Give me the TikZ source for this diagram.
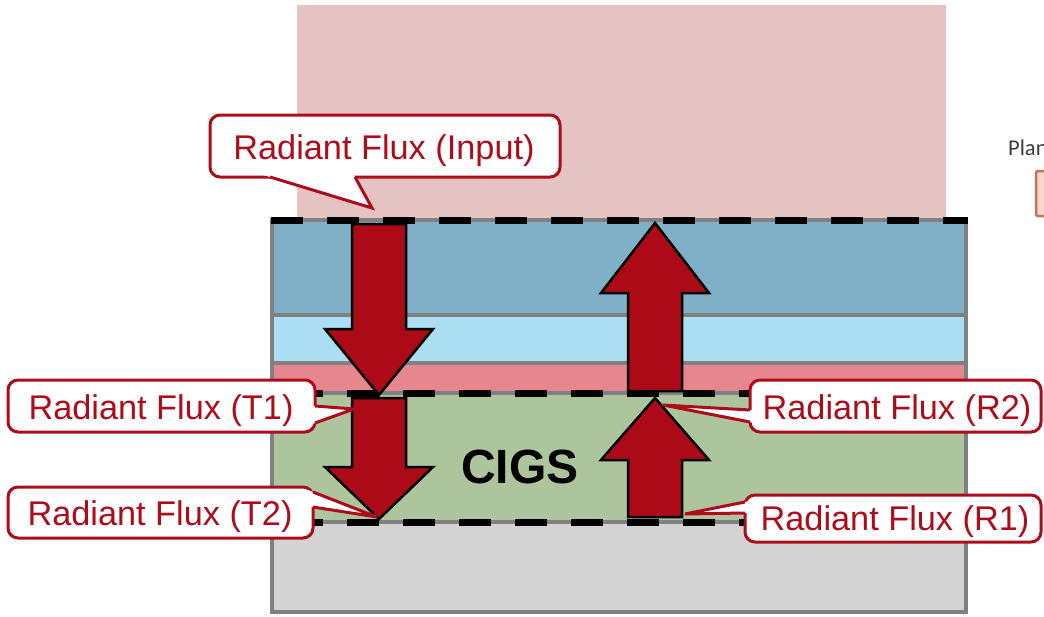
\documentclass[tikz,border=0pt]{standalone}
\usepackage{fontspec}
\usetikzlibrary{calc}
\setmainfont{Liberation Sans}
\newfontfamily\planfont{Carlito}
\definecolor{bgpink}{HTML}{E6C3C3}
\definecolor{layblue}{HTML}{7FB0C7}
\definecolor{laylight}{HTML}{ABDDF3}
\definecolor{laypink}{HTML}{E8868F}
\definecolor{laygreen}{HTML}{ADC59D}
\definecolor{laygray}{HTML}{D3D3D3}
\definecolor{bordergray}{HTML}{808080}
\definecolor{arrowred}{HTML}{AD0A17}
\definecolor{calred}{HTML}{AE0C1B}
\definecolor{plantext}{HTML}{3A3A3A}
\definecolor{planbrd}{HTML}{C47458}
\definecolor{planfill}{HTML}{F8D6CB}
% pointer of a callout: #1 base point, #2 tip, #3 base point
\newcommand{\mypointer}[3]{%
  \fill[white] ($(#1)!-6pt!(#2)$) -- (#2) -- ($(#3)!-6pt!(#2)$) -- cycle;
  \draw[calline] (#1) -- (#2) -- (#3);}
\begin{document}
\begin{tikzpicture}[x=1pt,y=-1pt,
  sepline/.style={draw=bordergray,line width=4},
  dashline/.style={draw=black,line width=7,dash pattern=on 32 off 24},
  fluxarrow/.style={fill=arrowred,draw=black,line width=2.5,line join=miter},
  calbox/.style={draw=calred,fill=white,line width=3,rounded corners=10},
  calline/.style={draw=calred,line width=3,line join=miter,miter limit=6},
  lbl/.style={anchor=base,inner sep=0,text=calred,font=\fontsize{34.3}{40}\selectfont},
  cigslbl/.style={anchor=base,inner sep=0,text=black,font=\bfseries\fontsize{48}{56}\selectfont}]
\useasboundingbox (0,0) rectangle (1044,616);
% background incident medium
\fill[bgpink] (297,5) rectangle (946,220);
% layers
\fill[layblue] (272,220) rectangle (966,315);
\fill[laylight] (272,315) rectangle (966,363);
\fill[laypink] (272,363) rectangle (966,393);
\fill[laygreen] (272,393) rectangle (966,522);
\fill[laygray] (272,522) rectangle (966,612);
\draw[sepline] (272,315) -- (966,315);
\draw[sepline] (272,363) -- (966,363);
\draw[sepline] (272,393) -- (966,393);
\draw[sepline] (272,522) -- (966,522);
\draw[sepline] (272,220) rectangle (966,612);
% interfaces
\draw[dashline] (271,220) -- (968,220);
\draw[dashline,dash phase=36] (271,393) -- (968,393);
\draw[dashline,dash phase=36] (271,522) -- (968,522);
% CIGS label
\node[cigslbl] (cigs) at (520,483) {CIGS};
% flux arrows
\draw[fluxarrow] (352,224) -- (406,224) -- (406,329) -- (433,329) -- (379,395) -- (325,329) -- (352,329) -- cycle;
\draw[fluxarrow] (352,398) -- (406,398) -- (406,467) -- (433,467) -- (379,519) -- (325,467) -- (352,467) -- cycle;
\draw[fluxarrow] (628,391) -- (682,391) -- (682,293) -- (709,293) -- (655,223) -- (601,293) -- (628,293) -- cycle;
\draw[fluxarrow] (628,517) -- (682,517) -- (682,460) -- (709,460) -- (655,398) -- (601,460) -- (628,460) -- cycle;
% callout: input
\draw[calbox] (210,115) rectangle (560,177);
\coordinate (inA) at (270,177); \coordinate (inT) at (372,208); \coordinate (inB) at (355,177);
\mypointer{inA}{inT}{inB}
\node[lbl] (fin) at (384,159) {Radiant Flux (Input)};
% callout: T1
\draw[calbox] (8,380) rectangle (315,432);
\coordinate (t1A) at (315,406); \coordinate (t1T) at (354,409); \coordinate (t1B) at (315,423);
\mypointer{t1A}{t1T}{t1B}
\node[lbl] (ft1) at (161,419) {Radiant Flux (T1)};
% callout: T2
\draw[calbox] (8,487) rectangle (313,538);
\coordinate (t2A) at (313,492); \coordinate (t2T) at (377,517); \coordinate (t2B) at (313,507);
\mypointer{t2A}{t2T}{t2B}
\node[lbl] (ft2) at (160,525) {Radiant Flux (T2)};
% callout: R2
\draw[calbox] (750,380) rectangle (1041,432);
\coordinate (r2A) at (750,410); \coordinate (r2T) at (663,405); \coordinate (r2B) at (750,422);
\mypointer{r2A}{r2T}{r2B}
\node[lbl] (fr2) at (897,419) {Radiant Flux (R2)};
% callout: R1
\draw[calbox] (745,495) rectangle (1041,542);
\coordinate (r1A) at (745,502); \coordinate (r1T) at (685,514); \coordinate (r1B) at (745,513);
\mypointer{r1A}{r1T}{r1B}
\node[lbl] (fr1) at (895,530) {Radiant Flux (R1)};
% cut-off panel at right
\node[anchor=base west,inner sep=0,text=plantext,font=\planfont\fontsize{22.5}{26}\selectfont] (plan) at (1008,155) {Plan};
\draw[draw=planbrd,fill=planfill,line width=2.5,rounded corners=2] (1036,171) rectangle (1056,216);
\end{tikzpicture}
\end{document}
